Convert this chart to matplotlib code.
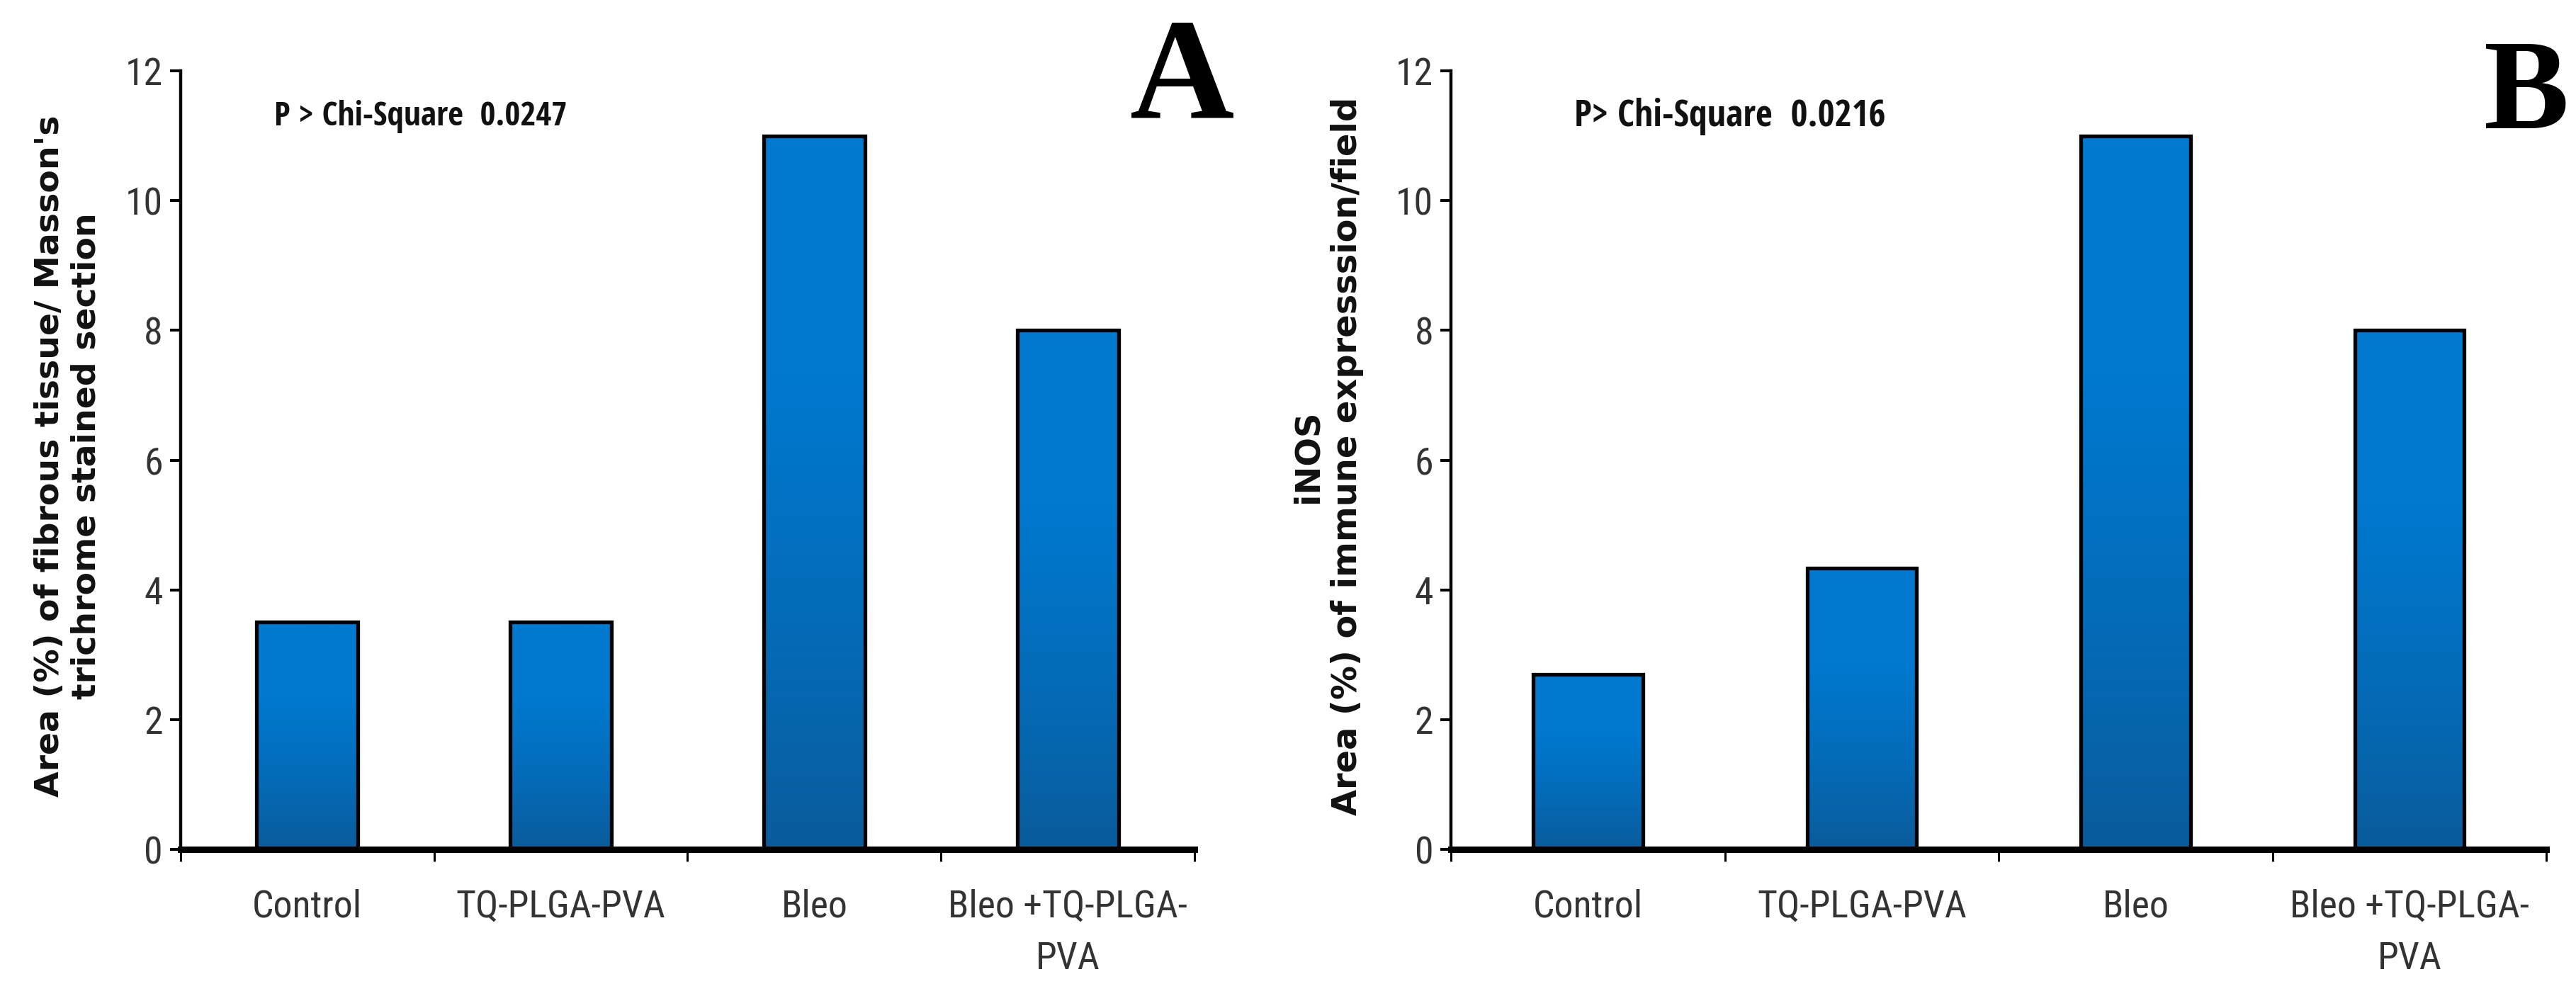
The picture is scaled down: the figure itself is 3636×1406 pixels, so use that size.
import os
import numpy as np
import matplotlib
matplotlib.use('Agg')
import matplotlib.pyplot as plt
from matplotlib import font_manager as fm
from matplotlib.font_manager import FontProperties
from matplotlib.textpath import TextPath
from matplotlib.colors import LinearSegmentedColormap

# data
groups = ['Control', 'TQ-PLGA-PVA', 'Bleo', 'Bleo +TQ-PLGA-\nPVA']
fibrous_area = [3.5, 3.5, 11, 8]
inos_area = [2.7, 4.33, 11, 8]
y_ticks = [0, 2, 4, 6, 8, 10, 12]
p_text_a = 'P > Chi-Square  0.0247'
p_text_b = 'P> Chi-Square  0.0216'
ylabel_a = ["Area (%) of fibrous tissue/ Masson's", 'trichrome stained section']
ylabel_b = ['iNOS', 'Area (%) of immune expresssion/field']

DPI = 100


def narrow_font(bold):
    # look for a condensed sans face, the original uses a Calibri-like narrow font
    prio = ['liberation', 'arial', 'noto', 'open', 'roboto', 'dejavu', 'lato', 'inter']
    best, best_rank = None, 99
    for f in fm.fontManager.ttflist:
        fn = os.path.basename(f.fname).lower()
        nm = f.name.lower()
        if not ('narrow' in fn or 'condensed' in fn or 'narrow' in nm or 'condensed' in nm):
            continue
        if any(w in fn for w in ['extra', 'semi', 'ultra', 'italic', 'oblique', 'light',
                                 'thin', 'medium', 'black', 'heavy']):
            continue
        is_bold = 'bold' in fn
        if is_bold != bold:
            continue
        rank = next((i for i, p in enumerate(prio) if p in nm), 50)
        if rank < best_rank:
            best, best_rank = f.fname, rank
    if best is None:
        best = fm.findfont(FontProperties(family='Liberation Sans',
                                          weight='bold' if bold else 'normal'))
    return best


reg_path = narrow_font(False)
bold_path = narrow_font(True)
wide_bold_path = fm.findfont(FontProperties(family='DejaVu Sans', weight='bold'))


def fit_size(path, s, target_px):
    w = TextPath((0, 0), s, prop=FontProperties(fname=path, size=100)).get_extents().width
    return 100 * target_px * 72 / DPI / w


tick_size = fit_size(reg_path, 'Control', 148)
tick_fp = FontProperties(fname=reg_path, size=tick_size)
em = tick_size * DPI / 72

grad = LinearSegmentedColormap.from_list('bar', ['#0a5c9c', '#046cba', '#0079cf', '#0079cf'])

fig = plt.figure(figsize=(36.36, 14.06), dpi=DPI)
ax_a = fig.add_axes([0.0701, 0.1472, 0.3936, 0.7817])
ax_b = fig.add_axes([0.5633, 0.1472, 0.4252, 0.7817])


def draw_panel(ax, values, ptext, ptx, p_px, ylabel, fit_line, lab_px, lab_x, lab_gap):
    xs = np.arange(len(values)) + 0.5
    bars = ax.bar(xs, values, width=0.4, facecolor='none', edgecolor='black',
                  linewidth=3.8, zorder=3)
    g = np.linspace(0, 1, 256).reshape(-1, 1)
    for b in bars:
        x0 = b.get_x()
        im = ax.imshow(g, cmap=grad, origin='lower', aspect='auto',
                       extent=[x0, x0 + b.get_width(), 0, b.get_height()], zorder=2)
        im.set_clip_path(b)
    ax.set_xlim(0, 4)
    ax.set_ylim(0, 12)

    for s in ['top', 'right']:
        ax.spines[s].set_visible(False)
    ax.spines['left'].set_linewidth(3.2)
    ax.spines['bottom'].set_linewidth(6.5)
    ax.spines['bottom'].set_zorder(4)

    ax.set_yticks(y_ticks)
    ax.set_yticklabels([str(v) for v in y_ticks], fontproperties=tick_fp, color='#333333')
    ax.tick_params(axis='y', direction='out', length=11, width=2.9, pad=7)

    ax.set_xticks(range(5))
    ax.set_xticklabels([])
    ax.tick_params(axis='x', which='major', direction='out', length=12, width=2.2)
    ax.set_xticks(xs, minor=True)
    ax.set_xticklabels(groups, minor=True, fontproperties=tick_fp, color='#333333',
                       linespacing=78 / (0.93 * em), va='top')
    ax.tick_params(axis='x', which='minor', length=0, pad=40)

    p_size = fit_size(bold_path, ptext, p_px)
    ax.text(ptx, 11.29, ptext, fontproperties=FontProperties(fname=bold_path, size=p_size),
            va='center', ha='left', color='#111111')

    lab_size = fit_size(wide_bold_path, fit_line, lab_px)
    lab_em = lab_size * DPI / 72
    ax.set_ylabel('\n'.join(ylabel), fontproperties=FontProperties(fname=wide_bold_path, size=lab_size),
                  linespacing=lab_gap / (0.96 * lab_em), color='#111111')
    ax.yaxis.set_label_coords(lab_x, 0.505)


draw_panel(ax_a, fibrous_area, p_text_a, 0.37, 408, ylabel_a, ylabel_a[0], 960, -0.077, 54)
draw_panel(ax_b, inos_area, p_text_b, 0.45, 435, ylabel_b, ylabel_b[1], 1010, -0.0796, 56)

fig.text(0.459, 0.882, 'A', family='Liberation Serif', fontweight='bold',
         fontsize=147, ha='center', va='baseline')
fig.text(0.9808, 0.871, 'B', family='Liberation Serif', fontweight='bold',
         fontsize=130, ha='center', va='baseline')

fig.savefig('out.png', dpi=DPI, facecolor='white')
